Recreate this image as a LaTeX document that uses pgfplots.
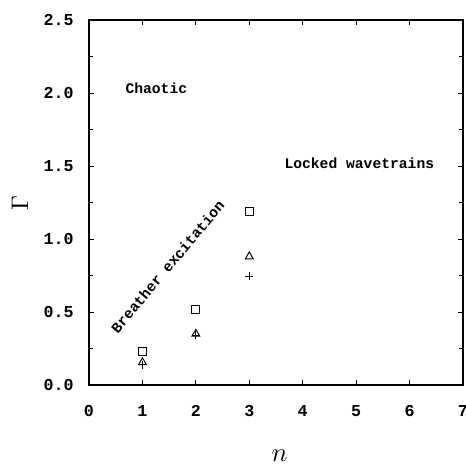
\documentclass[border=0pt]{standalone}
\usepackage{pgfplots}
\pgfplotsset{compat=1.18}
\usepackage{graphicx}
\usepackage{fontspec}
\setmainfont{Liberation Mono}
\usetikzlibrary{calc}
\begin{document}
\begin{tikzpicture}
\begin{axis}[
  scale only axis,
  width=280.5pt, height=273.75pt,
  xmin=0, xmax=7, ymin=0, ymax=2.5,
  xtick={0,1,2,3,4,5,6,7},
  ytick={0,0.5,1.0,1.5,2.0,2.5},
  minor y tick num=1,
  tick align=inside,
  major tick length=4pt, minor tick length=3pt,
  axis line style={line width=0.9pt},
  every tick/.style={black, line width=0.6pt},
  /pgf/number format/assume math mode=true,
  yticklabel style={/pgf/number format/fixed, /pgf/number format/fixed zerofill, /pgf/number format/precision=1, font=\fontsize{12.5}{14}\bfseries},
  xticklabel style={font=\fontsize{12.5}{14}\bfseries},
  yticklabel shift=8pt,
  xticklabel shift=12pt,
  clip=false,
]
\addplot[only marks, mark=square, mark size=3pt, mark options={line width=0.7pt}] coordinates {(1,0.23) (2,0.52) (3,1.19)};
\addplot[only marks, mark=triangle, mark size=3.4pt, mark options={line width=0.7pt}] coordinates {(1,0.155) (2,0.35) (3,0.88)};
\addplot[only marks, mark=+, mark size=3pt, mark options={line width=0.7pt}] coordinates {(1,0.14) (2,0.34) (3,0.745)};
\node[font=\fontsize{11}{13}\bfseries] at (axis cs:1.26,2.03) {Chaotic};
\node[font=\fontsize{11}{13}\bfseries] at (axis cs:5.06,1.52) {Locked wavetrains};
\node[font=\fontsize{11}{13}\bfseries, rotate=50] at (axis cs:1.47,0.81) {Breather excitation};
\node[inner sep=0pt] at (rel axis cs:0.51,-0.195) {\scalebox{2}{$n$}};
\node[rotate=90] at (rel axis cs:-0.185,0.5) {\scalebox{1.8}{$\Gamma$}};
\coordinate (sw) at (rel axis cs:0,0);
\coordinate (ne) at (rel axis cs:1,1);
\end{axis}
\pgfresetboundingbox
\path ($(sw)+(-66.75pt,-62.25pt)$) rectangle ($(ne)+(2.25pt,15pt)$);
\end{tikzpicture}
\end{document}
